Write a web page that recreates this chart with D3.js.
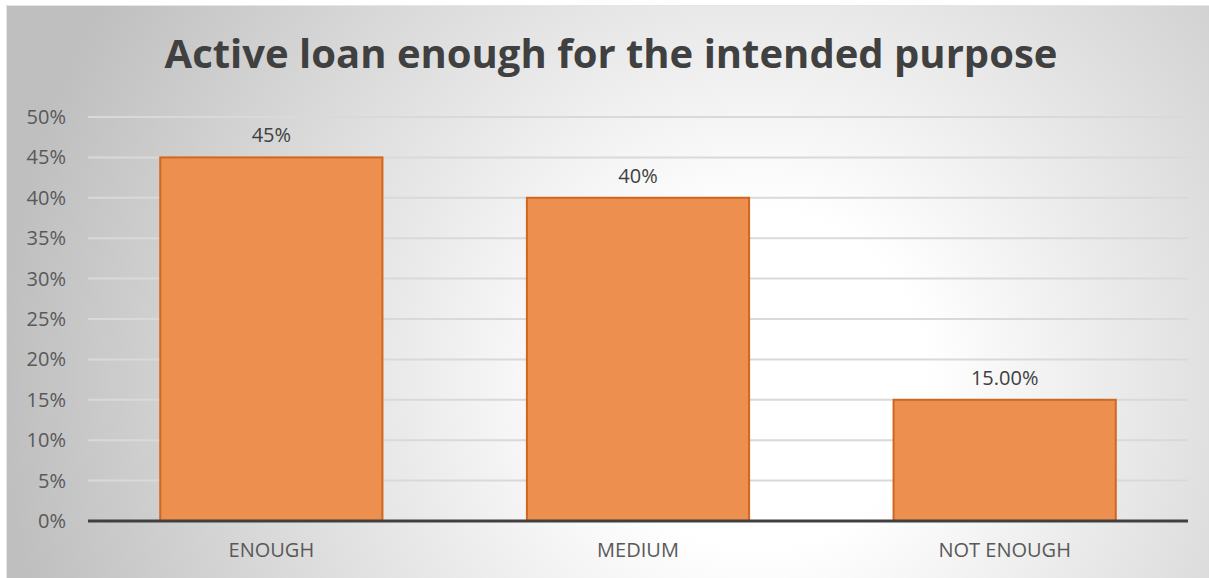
<!DOCTYPE html>
<html>
<head>
<meta charset="utf-8">
<script src="https://cdn.jsdelivr.net/npm/d3@7"></script>
<style>
  html, body { margin: 0; padding: 0; background: #ffffff; }
  svg { display: block; }
  text { font-family: "Open Sans", "Noto Sans", sans-serif; }
</style>
</head>
<body>
<svg id="chart" width="1209" height="578"></svg>
<script>
// Loan adequacy survey results
const categories = ["ENOUGH", "MEDIUM", "NOT ENOUGH"];
const shares = [0.45, 0.40, 0.15];
const valueLabels = ["45%", "40%", "15.00%"];
const yTicks = [0, 0.05, 0.10, 0.15, 0.20, 0.25, 0.30, 0.35, 0.40, 0.45, 0.50];
const titleText = "Active loan enough for the intended purpose";

const W = 1209, H = 578;
const plot = { left: 88, right: 1188, top: 117, bottom: 521 };

const svg = d3.select("#chart");
const defs = svg.append("defs");

// soft radial backdrop, bright toward the lower middle
const grad = defs.append("radialGradient")
  .attr("id", "bg")
  .attr("gradientUnits", "userSpaceOnUse")
  .attr("cx", 760).attr("cy", 380).attr("r", 760);
grad.append("stop").attr("offset", "0%").attr("stop-color", "#ffffff");
grad.append("stop").attr("offset", "22%").attr("stop-color", "#ffffff");
grad.append("stop").attr("offset", "100%").attr("stop-color", "#bfbfbf");

svg.append("rect")
  .attr("x", 6).attr("y", 5).attr("width", W - 6).attr("height", H - 5)
  .attr("fill", "url(#bg)");
// faint frame edge
svg.append("path")
  .attr("d", `M6.5,${H} V5.5 H${W}`)
  .attr("fill", "none").attr("stroke", "#e6e6e6").attr("stroke-width", 1);

const x = d3.scaleBand()
  .domain(categories)
  .range([plot.left, plot.right])
  .paddingInner(0.394)
  .paddingOuter(0.197);

const y = d3.scaleLinear()
  .domain([0, 0.5])
  .range([plot.bottom, plot.top]);

// horizontal gridlines
svg.append("g")
  .selectAll("line")
  .data(yTicks.filter(d => d > 0))
  .join("line")
  .attr("x1", plot.left).attr("x2", plot.right)
  .attr("y1", d => y(d)).attr("y2", d => y(d))
  .attr("stroke", "#d9d9d9").attr("stroke-width", 2);

// y axis labels
const yAxis = d3.axisLeft(y)
  .tickValues(yTicks)
  .tickFormat(d3.format(".0%"))
  .tickSize(0)
  .tickPadding(0);
const gy = svg.append("g")
  .attr("transform", `translate(66,0)`)
  .call(yAxis);
gy.select(".domain").remove();
gy.selectAll("text")
  .attr("font-size", 20)
  .attr("fill", "#595959")
  .attr("font-family", "Open Sans, Noto Sans, sans-serif");

// bars
svg.append("g")
  .selectAll("rect")
  .data(categories)
  .join("rect")
  .attr("x", d => x(d))
  .attr("width", x.bandwidth())
  .attr("y", (d, i) => y(shares[i]))
  .attr("height", (d, i) => y(0) - y(shares[i]))
  .attr("fill", "#ed8f4f")
  .attr("stroke", "#cf6720")
  .attr("stroke-width", 2);

// value labels
svg.append("g")
  .selectAll("text")
  .data(categories)
  .join("text")
  .attr("x", d => x(d) + x.bandwidth() / 2)
  .attr("y", (d, i) => y(shares[i]) - 15)
  .attr("text-anchor", "middle")
  .attr("font-size", 20)
  .attr("fill", "#404040")
  .text((d, i) => valueLabels[i]);

// x axis
const xAxis = d3.axisBottom(x).tickSize(0).tickPadding(0);
const gx = svg.append("g")
  .attr("transform", `translate(0,${plot.bottom})`)
  .call(xAxis);
gx.select(".domain").remove();
gx.selectAll("text")
  .attr("dy", "0")
  .attr("y", 36)
  .attr("font-size", 20)
  .attr("fill", "#595959")
  .attr("font-family", "Open Sans, Noto Sans, sans-serif");
svg.append("line")
  .attr("x1", plot.left).attr("x2", plot.right)
  .attr("y1", plot.bottom).attr("y2", plot.bottom)
  .attr("stroke", "#404040").attr("stroke-width", 3);

// title
svg.append("text")
  .attr("x", 611).attr("y", 68)
  .attr("text-anchor", "middle")
  .attr("font-size", 40)
  .attr("font-weight", "bold")
  .attr("fill", "#404040")
  .text(titleText);
</script>
</body>
</html>
